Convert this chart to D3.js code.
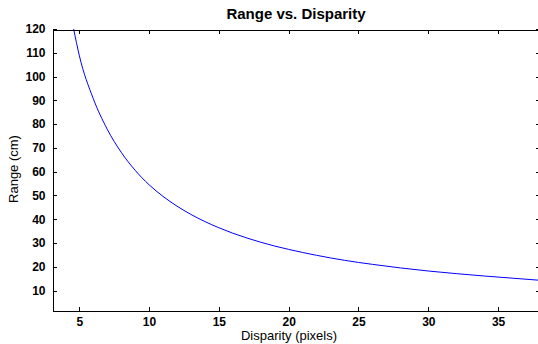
<!DOCTYPE html>
<html>
<head>
<meta charset="utf-8">
<script src="https://cdn.jsdelivr.net/npm/d3@7"></script>
<style>
  html, body { margin: 0; padding: 0; background: #fff; }
  svg { display: block; font-family: "Liberation Sans", Arial, sans-serif; }
</style>
</head>
<body>
<svg id="chart" width="538" height="344"></svg>
<script>
// Data
const disparity = [4.6, 5, 6, 7, 8, 9, 10, 11, 12, 13, 14, 15, 16, 17, 18, 19, 20, 22, 24, 26, 28, 30, 32, 34, 36, 38];
const range     = [120, 109, 90.8, 77.9, 68.2, 60.6, 54.5, 49.6, 45.5, 42, 39, 36.4, 34.1, 32.1, 30.3, 28.7, 27.3, 24.8, 22.7, 21.0, 19.5, 18.2, 17.1, 16.1, 15.2, 14.3];
const xTicks = [5, 10, 15, 20, 25, 30, 35];
const yTicks = [10, 20, 30, 40, 50, 60, 70, 80, 90, 100, 110, 120];
const titleText = "Range vs. Disparity";
const xLabelText = "Disparity (pixels)";
const yLabelText = "Range (cm)";

const svg = d3.select("#chart");
const L = 52, R = 540, T = 29, B = 310;

const x = d3.scaleLinear().domain([3.05, 38]).range([L, R]);
const y = d3.scaleLinear().domain([1.8, 120]).range([B, T]);

svg.append("rect").attr("width", 538).attr("height", 344).attr("fill", "#fff");

svg.append("defs").append("clipPath").attr("id", "clip")
  .append("rect").attr("x", L).attr("y", T).attr("width", R - L).attr("height", B - T);

const points = disparity.map((d, i) => [d, range[i]]);
svg.append("path")
  .datum(points)
  .attr("clip-path", "url(#clip)")
  .attr("fill", "none")
  .attr("stroke", "#0000ff")
  .attr("stroke-width", 1)
  .attr("d", d3.line().x(d => x(d[0])).y(d => y(d[1])).curve(d3.curveMonotoneX));

function styleAxis(g, showLabels) {
  g.selectAll(".domain").attr("stroke", "#000").attr("shape-rendering", "crispEdges");
  g.selectAll(".tick line").attr("stroke", "#000").attr("shape-rendering", "crispEdges");
  g.selectAll(".tick text")
    .attr("fill", "#000")
    .style("font-size", "12px")
    .style("font-weight", "bold")
    .style("font-family", "'Liberation Sans', Arial, sans-serif")
    .style("display", showLabels ? null : "none");
}

// bottom
svg.append("g").attr("transform", `translate(0,${B + 0.5})`)
  .call(d3.axisBottom(x).tickValues(xTicks).tickFormat(d3.format("d")).tickSizeInner(-4).tickSizeOuter(0).tickPadding(7))
  .call(g => styleAxis(g, true));
// top
svg.append("g").attr("transform", `translate(0,${T + 0.5})`)
  .call(d3.axisTop(x).tickValues(xTicks).tickSizeInner(-4).tickSizeOuter(0))
  .call(g => styleAxis(g, false));
// left
svg.append("g").attr("transform", `translate(${L + 0.5},0)`)
  .call(d3.axisLeft(y).tickValues(yTicks).tickFormat(d3.format("d")).tickSizeInner(-4).tickSizeOuter(0).tickPadding(7))
  .call(g => styleAxis(g, true));
// right
svg.append("g").attr("transform", `translate(${R - 0.5},0)`)
  .call(d3.axisRight(y).tickValues(yTicks).tickSizeInner(-4).tickSizeOuter(0))
  .call(g => styleAxis(g, false));

svg.append("text")
  .attr("x", 296).attr("y", 19)
  .attr("text-anchor", "middle")
  .style("font-size", "15px").style("font-weight", "bold")
  .text(titleText);

svg.append("text")
  .attr("x", 289).attr("y", 340)
  .attr("text-anchor", "middle")
  .style("font-size", "13px")
  .text(xLabelText);

svg.append("text")
  .attr("transform", "translate(18,169) rotate(-90)")
  .attr("text-anchor", "middle")
  .style("font-size", "13px")
  .text(yLabelText);
</script>
</body>
</html>
